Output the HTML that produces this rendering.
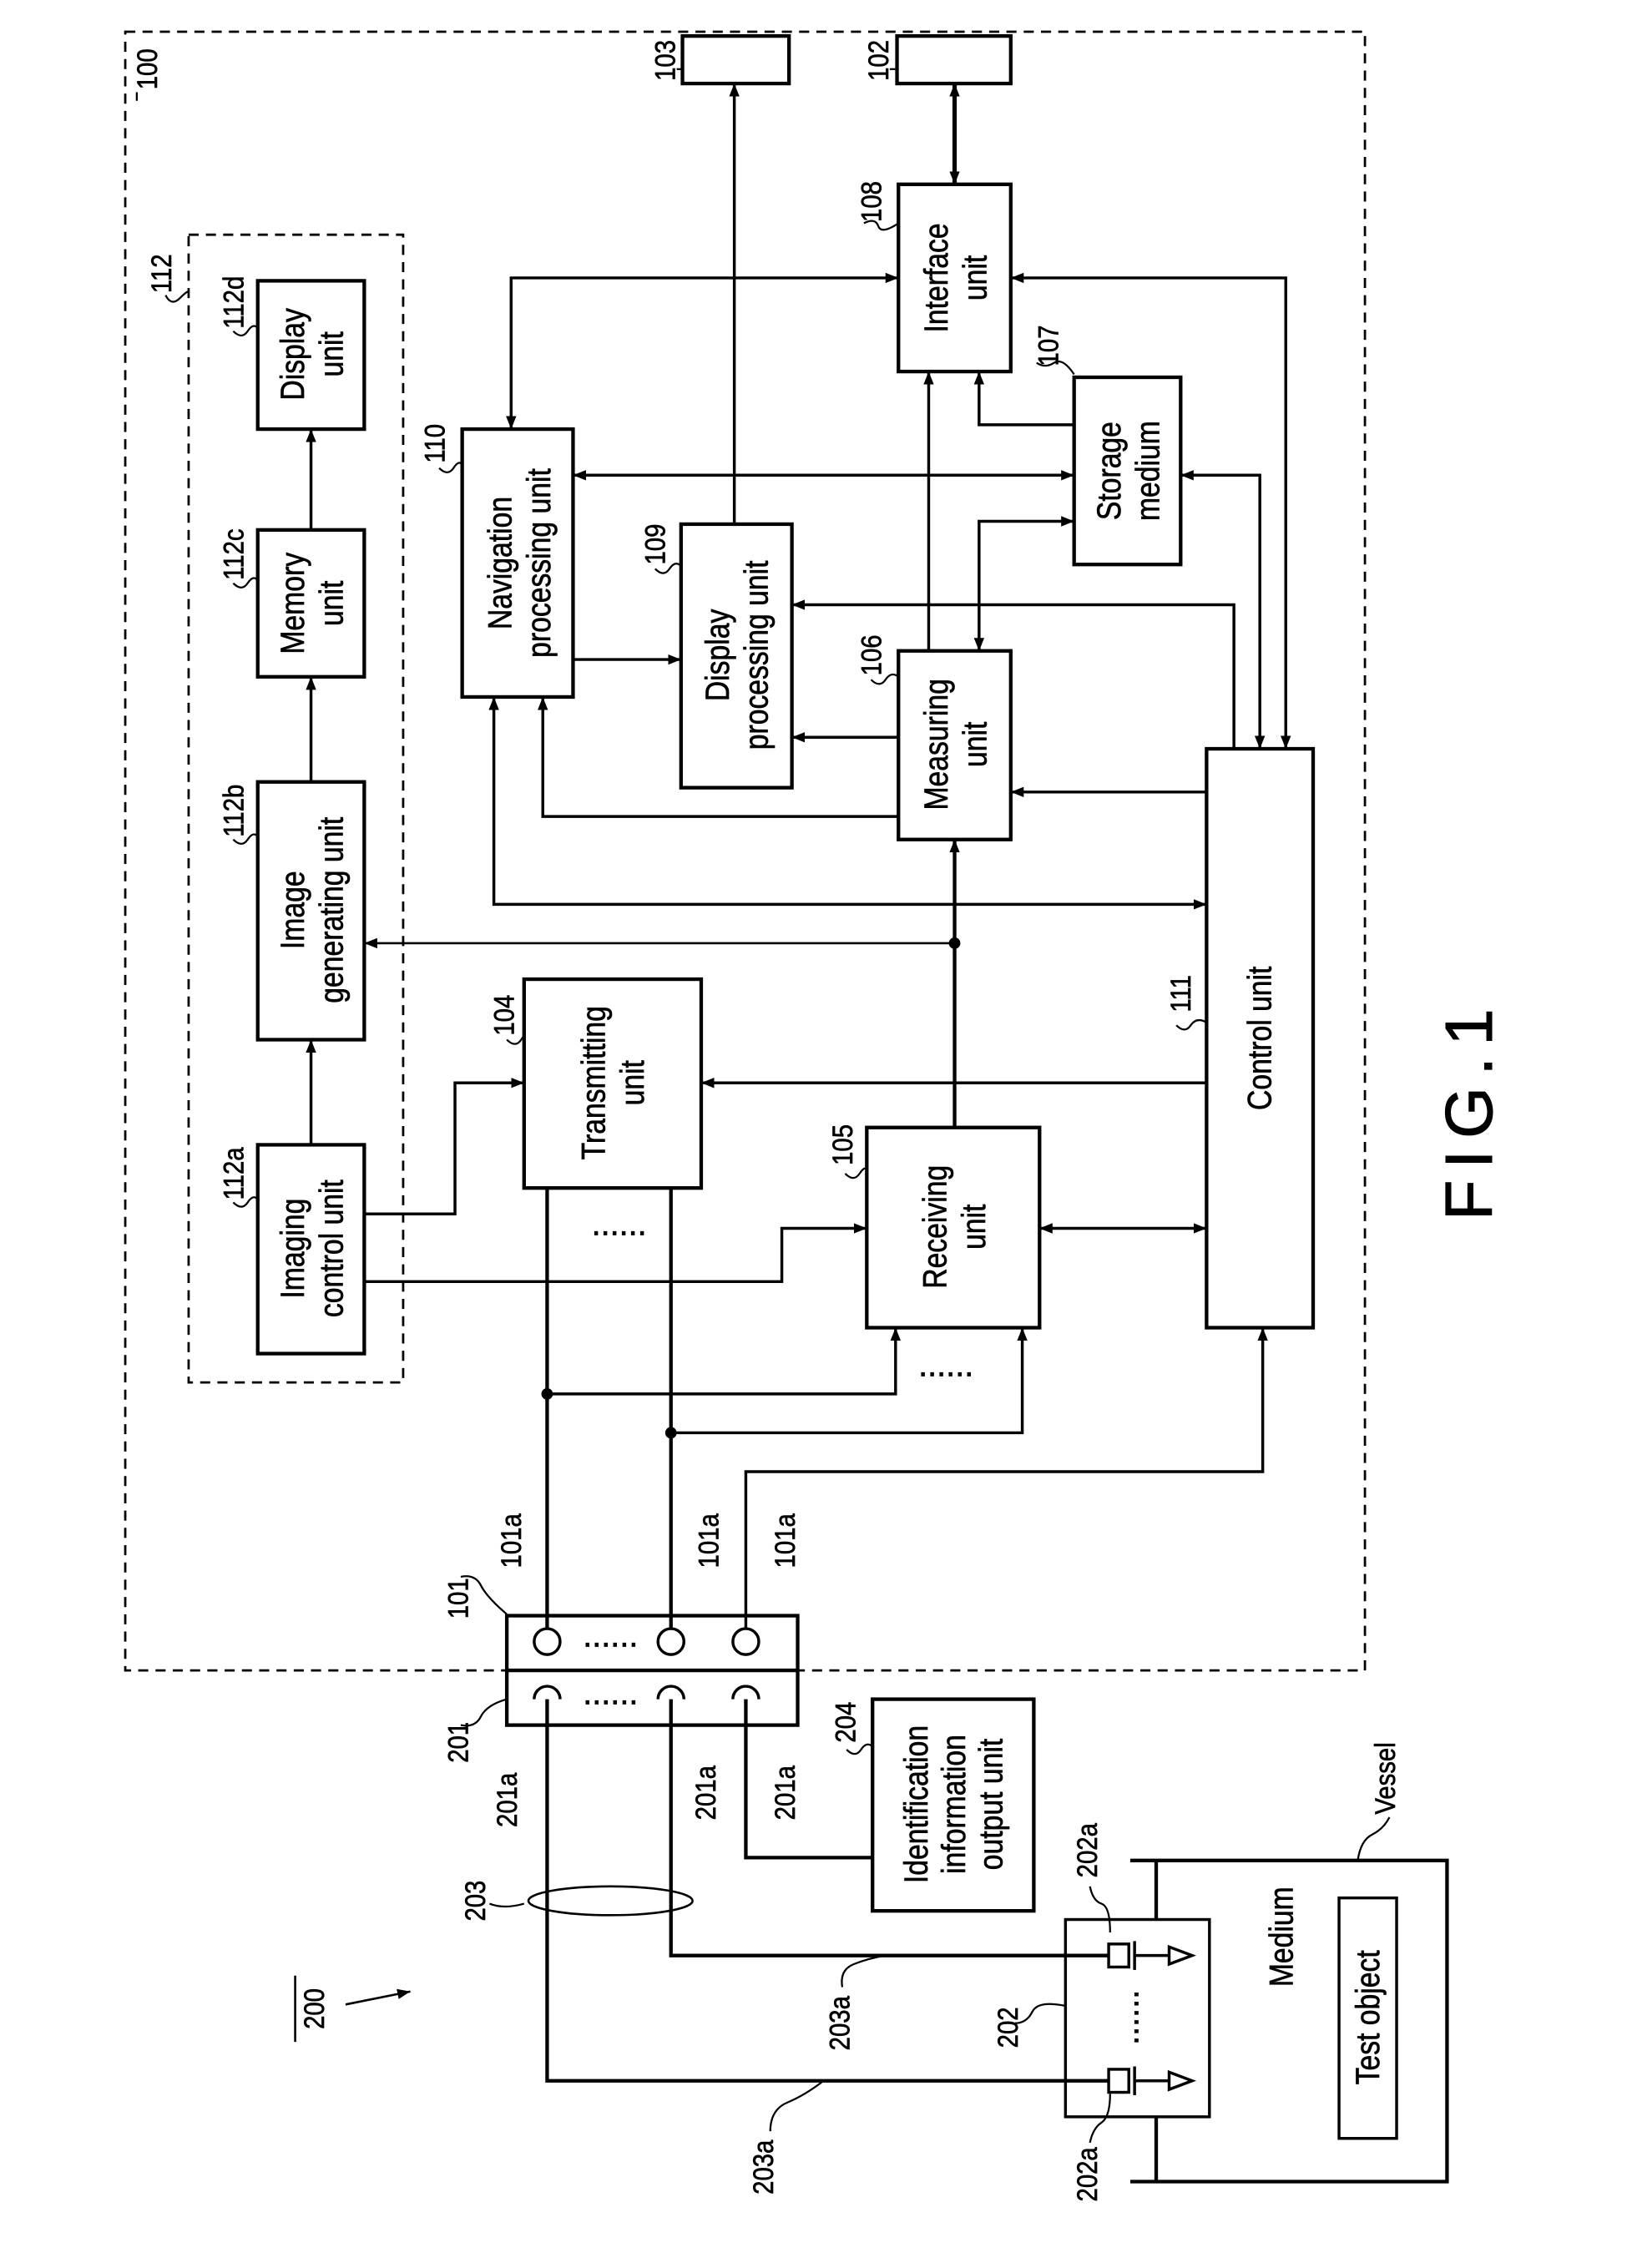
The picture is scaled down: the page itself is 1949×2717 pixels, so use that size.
<!DOCTYPE html>
<html><head><meta charset="utf-8"><style>
html,body{margin:0;padding:0;background:#fff}
svg{display:block}
text{font-family:"Liberation Sans Narrow","Liberation Sans",sans-serif;fill:#000;dominant-baseline:central;text-anchor:middle;stroke:#000;stroke-width:0.4}
.b{font-size:23px}
.l{font-size:20px}
</style></head><body>
<svg width="1949" height="2717" viewBox="0 0 1130 1575" preserveAspectRatio="none" xmlns="http://www.w3.org/2000/svg">
<defs>
<marker id="a" viewBox="0 0 10 10" refX="10" refY="5" markerWidth="9" markerHeight="9" markerUnits="userSpaceOnUse" orient="auto-start-reverse"><path d="M0,1 L10,5 L0,9 z" fill="#000"/></marker>
</defs>
<g fill="none" stroke="#000" stroke-width="2">
<rect x="87" y="22" width="861" height="1138" stroke-dasharray="7,5" stroke-width="1.6"/>
<rect x="131" y="163" width="149" height="797" stroke-dasharray="7,5" stroke-width="1.6"/>
<rect x="474" y="25" width="74" height="33" stroke-width="2.5"/>
<rect x="623" y="25" width="79" height="33" stroke-width="2.5"/>
<rect x="624" y="128" width="78" height="130" stroke-width="2.5"/>
<rect x="746" y="262" width="74" height="130" stroke-width="2.5"/>
<rect x="321" y="298" width="77" height="186" stroke-width="2.5"/>
<rect x="473" y="364" width="77" height="183" stroke-width="2.5"/>
<rect x="624" y="452" width="78" height="131" stroke-width="2.5"/>
<rect x="838" y="520" width="74" height="402" stroke-width="2.5"/>
<rect x="179" y="195" width="74" height="103" stroke-width="2.5"/>
<rect x="179" y="368" width="74" height="102" stroke-width="2.5"/>
<rect x="179" y="543" width="74" height="179" stroke-width="2.5"/>
<rect x="179" y="795" width="74" height="145" stroke-width="2.5"/>
<rect x="364" y="680" width="123" height="145" stroke-width="2.5"/>
<rect x="602" y="783" width="120" height="139" stroke-width="2.5"/>
<rect x="352" y="1122" width="202" height="76" stroke-width="2.5"/>
<line x1="352" y1="1160" x2="554" y2="1160" stroke-width="2.5"/>
<rect x="606" y="1180" width="112" height="147" stroke-width="2.5"/>
<rect x="740" y="1333" width="100" height="137" stroke-width="2"/>
<rect x="930" y="1318" width="40" height="167" stroke-width="2"/>
<polyline points="785,1292 1005,1292 1005,1515 785,1515" stroke-width="2.5"/>
<line x1="803" y1="1292" x2="803" y2="1333" stroke-width="2.5"/>
<line x1="803" y1="1470" x2="803" y2="1515" stroke-width="2.5"/>
<line x1="510" y1="364" x2="510" y2="58" marker-end="url(#a)"/>
<line x1="663" y1="128" x2="663" y2="58" stroke-width="3" marker-start="url(#a)" marker-end="url(#a)"/>
<polyline points="702,193 893,193 893,520" marker-start="url(#a)" marker-end="url(#a)"/>
<polyline points="355,298 355,193 624,193" marker-start="url(#a)" marker-end="url(#a)"/>
<polyline points="746,295 680,295 680,258" marker-end="url(#a)"/>
<line x1="398" y1="330" x2="746" y2="330" marker-start="url(#a)" marker-end="url(#a)"/>
<line x1="645" y1="452" x2="645" y2="258" marker-end="url(#a)"/>
<polyline points="680,452 680,362 746,362" marker-start="url(#a)" marker-end="url(#a)"/>
<polyline points="820,330 875,330 875,520" marker-start="url(#a)" marker-end="url(#a)"/>
<line x1="398" y1="458" x2="473" y2="458" marker-end="url(#a)"/>
<polyline points="857,520 857,420 550,420" marker-end="url(#a)"/>
<line x1="624" y1="512" x2="550" y2="512" marker-end="url(#a)"/>
<line x1="838" y1="550" x2="702" y2="550" marker-end="url(#a)"/>
<polyline points="624,567 377,567 377,484" marker-end="url(#a)"/>
<polyline points="343,484 343,628 838,628" marker-start="url(#a)" marker-end="url(#a)"/>
<line x1="663" y1="783" x2="663" y2="583" stroke-width="2.5" marker-end="url(#a)"/>
<line x1="663" y1="655" x2="253" y2="655" stroke-width="1.5" marker-end="url(#a)"/>
<line x1="838" y1="752" x2="487" y2="752" marker-end="url(#a)"/>
<line x1="216" y1="543" x2="216" y2="470" marker-end="url(#a)"/>
<line x1="216" y1="368" x2="216" y2="298" marker-end="url(#a)"/>
<line x1="216" y1="795" x2="216" y2="722" marker-end="url(#a)"/>
<polyline points="253,843 316,843 316,752 364,752" marker-end="url(#a)"/>
<polyline points="253,890 543,890 543,853 602,853" marker-end="url(#a)"/>
<line x1="722" y1="853" x2="838" y2="853" marker-start="url(#a)" marker-end="url(#a)"/>
<line x1="380" y1="825" x2="380" y2="1131" stroke-width="2.5"/>
<polyline points="380,968 622,968 622,922" marker-end="url(#a)"/>
<line x1="466" y1="825" x2="466" y2="1131" stroke-width="2.5"/>
<polyline points="466,995 710,995 710,922" marker-end="url(#a)"/>
<polyline points="518,1131 518,1022 877,1022 877,922" marker-end="url(#a)"/>
<circle cx="380" cy="1140" r="9"/><circle cx="466" cy="1140" r="9"/><circle cx="518" cy="1140" r="9"/>
<path d="M389,1180 A9,9 0 0 0 371,1180"/><path d="M475,1180 A9,9 0 0 0 457,1180"/><path d="M527,1180 A9,9 0 0 0 509,1180"/>
<polyline points="380,1180 380,1445 770,1445" stroke-width="2.5"/>
<polyline points="466,1180 466,1358 770,1358" stroke-width="2.5"/>
<polyline points="518,1180 518,1290 606,1290" stroke-width="2.5"/>
<ellipse cx="424" cy="1320" rx="57" ry="10" stroke-width="1.5"/>
<rect x="770" y="1350" width="14" height="16"/><line x1="788" y1="1348" x2="788" y2="1368"/><line x1="788" y1="1358" x2="812" y2="1358"/>
<path d="M812,1352 L828,1358 L812,1364 z"/>
<rect x="770" y="1437" width="14" height="16"/><line x1="788" y1="1435" x2="788" y2="1455"/><line x1="788" y1="1445" x2="812" y2="1445"/>
<path d="M812,1439 L828,1445 L812,1451 z"/>
<path d="M240,1392 L285,1383" stroke-width="1.5" marker-end="url(#a)"/>
<line x1="205" y1="1418" x2="205" y2="1372" stroke-width="1.5"/>
</g>
<!-- leader squiggles -->
<g fill="none" stroke="#000" stroke-width="1.3">
<path d="M600,155 q8,-4 10,2 t14,-2"/>
<path d="M720,252 q6,4 12,0 t14,8"/>
<path d="M305,325 q6,6 10,0 t6,-2"/>
<path d="M455,395 q6,6 10,0 t8,-2"/>
<path d="M605,472 q6,6 10,0 t9,-2"/>
<path d="M817,712 q6,6 10,0 t11,-2"/>
<path d="M115,205 q4,8 10,2 t6,-4"/>
<path d="M162,230 q6,6 10,0 t7,-2"/>
<path d="M162,405 q6,6 10,0 t7,-2"/>
<path d="M162,583 q6,6 10,0 t7,-2"/>
<path d="M162,835 q6,6 10,0 t7,-2"/>
<path d="M352,722 q6,6 10,0 t2,-2"/>
<path d="M587,815 q6,6 10,0 t5,-2"/>
<path d="M320,1095 q10,-2 14,6 t18,20"/>
<path d="M320,1198 q10,2 14,-6 t18,-12"/>
<path d="M588,1215 q6,6 10,0 t8,-2"/>
<path d="M340,1322 q10,4 24,0"/>
<path d="M585,1380 q-2,-12 8,-16 t22,-6"/>
<path d="M535,1480 q0,-15 12,-20 t25,-15"/>
<path d="M705,1405 q8,0 12,-8 t23,-4"/>
<path d="M757,1310 q2,10 8,12 t6,20"/>
<path d="M757,1488 q2,-10 8,-14 t6,-20"/>
<path d="M965,1262 q-4,8 -12,12 t-10,18"/>
<path d="M470,48 l4,0"/><path d="M618,48 l5,0"/>
<path d="M95,70 l0,-6"/>
</g>
<g fill="#000">
<circle cx="663" cy="655" r="4"/><circle cx="380" cy="968" r="4"/><circle cx="466" cy="995" r="4"/>
</g>
<g class="b">
<text transform="translate(663,193) rotate(-90) scale(0.85,1)"><tspan x="0" dy="-13">Interface</tspan><tspan x="0" dy="27">unit</tspan></text>
<text transform="translate(783,327) rotate(-90) scale(0.85,1)"><tspan x="0" dy="-13">Storage</tspan><tspan x="0" dy="27">medium</tspan></text>
<text transform="translate(360,391) rotate(-90) scale(0.85,1)"><tspan x="0" dy="-13">Navigation</tspan><tspan x="0" dy="27">processing unit</tspan></text>
<text transform="translate(511,455) rotate(-90) scale(0.85,1)"><tspan x="0" dy="-13">Display</tspan><tspan x="0" dy="27">processing unit</tspan></text>
<text transform="translate(663,517) rotate(-90) scale(0.85,1)"><tspan x="0" dy="-13">Measuring</tspan><tspan x="0" dy="27">unit</tspan></text>
<text transform="translate(875,721) rotate(-90) scale(0.85,1)">Control unit</text>
<text transform="translate(216,246) rotate(-90) scale(0.85,1)"><tspan x="0" dy="-13">Display</tspan><tspan x="0" dy="27">unit</tspan></text>
<text transform="translate(216,419) rotate(-90) scale(0.85,1)"><tspan x="0" dy="-13">Memory</tspan><tspan x="0" dy="27">unit</tspan></text>
<text transform="translate(216,632) rotate(-90) scale(0.85,1)"><tspan x="0" dy="-13">Image</tspan><tspan x="0" dy="27">generating unit</tspan></text>
<text transform="translate(216,867) rotate(-90) scale(0.85,1)"><tspan x="0" dy="-13">Imaging</tspan><tspan x="0" dy="27">control unit</tspan></text>
<text transform="translate(425,752) rotate(-90) scale(0.85,1)"><tspan x="0" dy="-13">Transmitting</tspan><tspan x="0" dy="27">unit</tspan></text>
<text transform="translate(662,852) rotate(-90) scale(0.85,1)"><tspan x="0" dy="-13">Receiving</tspan><tspan x="0" dy="27">unit</tspan></text>
<text transform="translate(662,1253) rotate(-90) scale(0.85,1)"><tspan x="0" dy="-26">Identification</tspan><tspan x="0" dy="26">information</tspan><tspan x="0" dy="26">output unit</tspan></text>
<text transform="translate(950,1401) rotate(-90) scale(0.85,1)">Test object</text>
<text transform="translate(890,1345) rotate(-90) scale(0.85,1)">Medium</text>
<text x="430" y="850">......</text>
<text x="657" y="948">......</text>
<text x="424" y="1136">......</text>
<text x="424" y="1176">......</text>
<text transform="translate(783,1401) rotate(-90)">......</text>
<text transform="translate(1020,770) rotate(-90)" style="font-size:46px;letter-spacing:8px;stroke-width:0.6">FIG.1</text>
</g>
<g class="l">
<text transform="translate(462,42) rotate(-90) scale(0.85,1)">103</text>
<text transform="translate(610,42) rotate(-90) scale(0.85,1)">102</text>
<text transform="translate(102,48) rotate(-90) scale(0.85,1)">100</text>
<text transform="translate(605,140) rotate(-90) scale(0.85,1)">108</text>
<text transform="translate(728,240) rotate(-90) scale(0.85,1)">107</text>
<text transform="translate(302,308) rotate(-90) scale(0.85,1)">110</text>
<text transform="translate(455,378) rotate(-90) scale(0.85,1)">109</text>
<text transform="translate(605,455) rotate(-90) scale(0.85,1)">106</text>
<text transform="translate(820,690) rotate(-90) scale(0.85,1)">111</text>
<text transform="translate(112,190) rotate(-90) scale(0.85,1)">112</text>
<text transform="translate(162,210) rotate(-90) scale(0.85,1)">112d</text>
<text transform="translate(162,385) rotate(-90) scale(0.85,1)">112c</text>
<text transform="translate(162,563) rotate(-90) scale(0.85,1)">112b</text>
<text transform="translate(162,815) rotate(-90) scale(0.85,1)">112a</text>
<text transform="translate(350,705) rotate(-90) scale(0.85,1)">104</text>
<text transform="translate(585,795) rotate(-90) scale(0.85,1)">105</text>
<text transform="translate(318,1110) rotate(-90) scale(0.85,1)">101</text>
<text transform="translate(355,1070) rotate(-90) scale(0.85,1)">101a</text>
<text transform="translate(492,1070) rotate(-90) scale(0.85,1)">101a</text>
<text transform="translate(545,1070) rotate(-90) scale(0.85,1)">101a</text>
<text transform="translate(318,1210) rotate(-90) scale(0.85,1)">201</text>
<text transform="translate(352,1250) rotate(-90) scale(0.85,1)">201a</text>
<text transform="translate(490,1245) rotate(-90) scale(0.85,1)">201a</text>
<text transform="translate(545,1245) rotate(-90) scale(0.85,1)">201a</text>
<text transform="translate(587,1196) rotate(-90) scale(0.85,1)">204</text>
<text transform="translate(330,1320) rotate(-90) scale(0.85,1)">203</text>
<text transform="translate(583,1405) rotate(-90) scale(0.85,1)">203a</text>
<text transform="translate(530,1505) rotate(-90) scale(0.85,1)">203a</text>
<text transform="translate(700,1408) rotate(-90) scale(0.85,1)">202</text>
<text transform="translate(755,1285) rotate(-90) scale(0.85,1)">202a</text>
<text transform="translate(755,1510) rotate(-90) scale(0.85,1)">202a</text>
<text transform="translate(962,1235) rotate(-90) scale(0.85,1)">Vessel</text>
<text transform="translate(218,1395) rotate(-90) scale(0.85,1)">200</text>
</g>
</svg>
</body></html>
